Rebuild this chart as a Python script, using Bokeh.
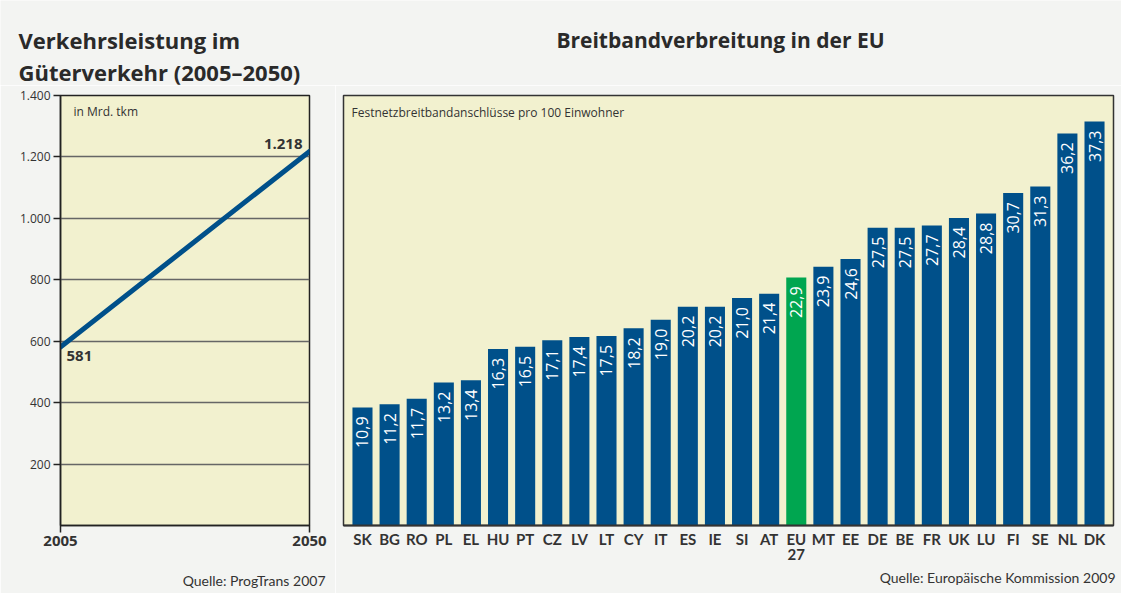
import math
from bokeh.plotting import figure
from bokeh.models import Range1d, FactorRange, FixedTicker, Label, ColumnDataSource, Title
from bokeh.layouts import row, column
from bokeh.embed import file_html
from bokeh.resources import INLINE
from bokeh.core.properties import value

# ---------------- data ----------------
years = [2005, 2050]
tkm = [581, 1218]
tkm_labels = ["581", "1.218"]
y_ticks = [200, 400, 600, 800, 1000, 1200, 1400]
y_tick_labels = ["200", "400", "600", "800", "1.000", "1.200", "1.400"]

countries = ["SK", "BG", "RO", "PL", "EL", "HU", "PT", "CZ", "LV", "LT", "CY", "IT",
             "ES", "IE", "SI", "AT", "EU\n27", "MT", "EE", "DE", "BE", "FR", "UK",
             "LU", "FI", "SE", "NL", "DK"]
values = [10.9, 11.2, 11.7, 13.2, 13.4, 16.3, 16.5, 17.1, 17.4, 17.5, 18.2, 19.0,
          20.2, 20.2, 21.0, 21.4, 22.9, 23.9, 24.6, 27.5, 27.5, 27.7, 28.4,
          28.8, 30.7, 31.3, 36.2, 37.3]
value_labels = ["10,9", "11,2", "11,7", "13,2", "13,4", "16,3", "16,5", "17,1", "17,4",
                "17,5", "18,2", "19,0", "20,2", "20,2", "21,0", "21,4", "22,9", "23,9",
                "24,6", "27,5", "27,5", "27,7", "28,4", "28,8", "30,7", "31,3", "36,2",
                "37,3"]
highlight = "EU\n27"

left_title = ["Verkehrsleistung im", "Güterverkehr (2005–2050)"]
right_title = "Breitbandverbreitung in der EU"
left_note = "in Mrd. tkm"
right_note = "Festnetzbreitbandanschlüsse pro 100 Einwohner"
left_source = "Quelle: ProgTrans 2007"
right_source = "Quelle: Europäische Kommission 2009"

# ---------------- styles ----------------
FONT = "Open Sans"
AXFONT = "Lato"
PAGE_BG = "#f3f4f2"
PLOT_BG = "#f2f1cf"
BLUE = "#00508a"
GREEN = "#00a650"
TXT = "#333333"
TITLE_TXT = "#2a2a2a"
HEAD_H = 85


def lab(text, x, y, size, bold=False, align="left", baseline="alphabetic", color=TXT):
    return Label(x=x, y=y, x_units="screen", y_units="screen", text=text,
                 text_align=align, text_baseline=baseline, text_font=FONT,
                 text_font_size=size, text_font_style="bold" if bold else "normal",
                 text_color=color)


def source_title(text, offset, standoff):
    return Title(text=text, align="right", offset=offset, standoff=standoff,
                 text_font=AXFONT, text_font_size="14px", text_font_style="normal",
                 text_color=TXT)


# ---------------- header ----------------
header = figure(width=1121, height=HEAD_H, x_range=Range1d(0, 1), y_range=Range1d(0, 1),
                x_axis_location=None, y_axis_location=None, output_backend="svg",
                toolbar_location=None, min_border=0)
header.grid.visible = False
header.outline_line_color = None
header.background_fill_color = PAGE_BG
header.border_fill_color = PAGE_BG
header.add_layout(lab(left_title[0], 18, HEAD_H - 39, "22px", True, color=TITLE_TXT))
header.add_layout(lab(left_title[1], 18, HEAD_H - 71, "22px", True, color=TITLE_TXT))
header.add_layout(lab(right_title, 720, HEAD_H - 39, "21px", True, align="center",
                      color=TITLE_TXT))

# ---------------- left chart ----------------
CH = 593 - HEAD_H
left = figure(width=335, height=CH, x_range=Range1d(2005, 2050), y_range=Range1d(0, 1400),
              output_backend="svg", toolbar_location=None,
              min_border_left=60, min_border_right=26, min_border_top=95 - HEAD_H,
              min_border_bottom=66)
left.background_fill_color = PLOT_BG
left.border_fill_color = PAGE_BG
left.outline_line_color = "#222222"
left.outline_line_width = 1.5
left.xgrid.visible = False
left.ygrid.ticker = FixedTicker(ticks=y_ticks[:-1])
left.ygrid.grid_line_color = "#666666"
left.ygrid.grid_line_width = 1.5

ya = left.yaxis[0]
ya.ticker = FixedTicker(ticks=y_ticks)
ya.major_label_overrides = dict(zip(y_ticks, y_tick_labels))
ya.minor_tick_line_color = None
ya.major_tick_in = 0
ya.major_tick_out = 7
ya.major_tick_line_width = 1.5
ya.axis_line_width = 1.5
ya.axis_line_color = "#222222"
ya.major_tick_line_color = "#222222"
ya.major_label_text_font = FONT
ya.major_label_text_font_size = "12px"
ya.major_label_text_color = TXT
ya.major_label_standoff = 3

xa = left.xaxis[0]
xa.ticker = FixedTicker(ticks=years)
xa.major_label_overrides = {y: str(y) for y in years}
xa.minor_tick_line_color = None
xa.major_tick_in = 0
xa.major_tick_out = 7
xa.major_tick_line_width = 1.5
xa.axis_line_width = 1.5
xa.axis_line_color = "#222222"
xa.major_tick_line_color = "#222222"
xa.major_label_text_font = FONT
xa.major_label_text_font_size = "15px"
xa.major_label_text_font_style = "bold"
xa.major_label_text_color = TXT
xa.major_label_standoff = 3
# invisible spacer below the year labels so the source note sits lower
xa.axis_label = " "
xa.axis_label_text_font_size = "1px"
xa.axis_label_standoff = 12

left.line(years, tkm, line_width=5, line_color=BLUE, line_cap="round")

left.add_layout(Label(x=years[0], y=tkm[0], text=tkm_labels[0], x_offset=6, y_offset=-4,
                      text_baseline="top", text_font=FONT, text_font_size="15px",
                      text_font_style="bold", text_color=TXT))
left.add_layout(Label(x=years[1], y=tkm[1], text=tkm_labels[1], x_offset=-7, y_offset=7,
                      text_align="right", text_baseline="alphabetic", text_font=FONT,
                      text_font_size="15px", text_font_style="bold", text_color=TXT))
left.add_layout(lab(left_note, 13, 414, "12px", baseline="middle"))
left.add_layout(source_title(left_source, -16, 10), "below")

# ---------------- right chart ----------------
colors = [GREEN if c == highlight else BLUE for c in countries]
src = ColumnDataSource(dict(x=countries, top=values, color=colors, label=value_labels))

right = figure(width=786, height=CH,
               x_range=FactorRange(factors=countries, range_padding=0.0143),
               y_range=Range1d(0, 39.7), y_axis_location=None,
               output_backend="svg", toolbar_location=None,
               min_border_left=8, min_border_right=8, min_border_top=95 - HEAD_H,
               min_border_bottom=66)
right.background_fill_color = PLOT_BG
right.border_fill_color = PAGE_BG
right.outline_line_color = "#333333"
right.outline_line_width = 1.5
right.xgrid.visible = False
right.ygrid.visible = False

right.vbar(x="x", top="top", width=0.74, fill_color="color", line_color=None, source=src)
right.text(x="x", y="top", text="label", angle=math.pi / 2, text_align="right",
           text_baseline="middle", y_offset=9, text_color="white", text_font_size="16px",
           text_font=value(FONT), source=src)

rx = right.xaxis[0]
rx.axis_line_color = "#333333"
rx.axis_line_width = 2
rx.major_tick_line_color = None
rx.minor_tick_line_color = None
rx.major_label_text_font = AXFONT
rx.major_label_text_font_size = "15px"
rx.major_label_text_font_style = "bold"
rx.major_label_text_color = TXT
rx.major_label_text_line_height = 0.85
rx.major_label_standoff = -2

right.add_layout(lab(right_note, 8, 413, "12px", baseline="middle"))
right.add_layout(source_title(right_source, -2, 2), "below")

layout = column(header, row(left, right))
open("out.html", "w").write(file_html(layout, INLINE))
